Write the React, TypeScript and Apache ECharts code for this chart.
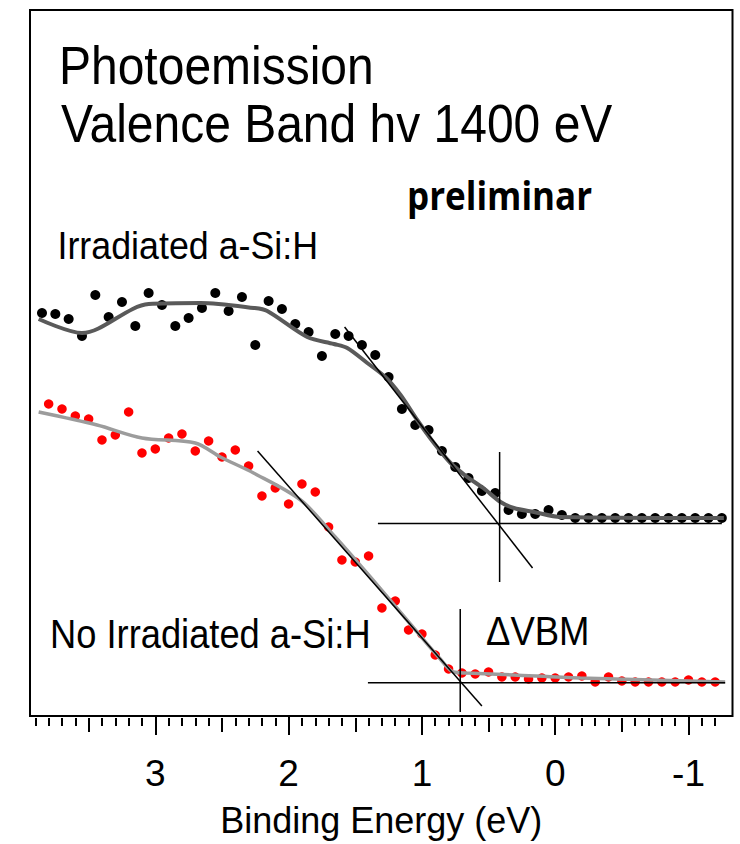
import React, { useEffect, useRef } from "react";
import * as echarts from "echarts";

// ---- Data (binding energy in eV, intensity in arbitrary units) ----
const blackE = [3.85, 3.75, 3.65, 3.55, 3.45, 3.35, 3.25, 3.15, 3.05, 2.95, 2.85, 2.75, 2.65, 2.55, 2.45, 2.35, 2.25, 2.15, 2.05, 1.95, 1.85, 1.75, 1.65, 1.55, 1.45, 1.35, 1.25, 1.15, 1.05, 0.95, 0.85, 0.75, 0.65, 0.55, 0.45, 0.35, 0.25, 0.15, 0.05, -0.05, -0.15, -0.25, -0.35, -0.45, -0.55, -0.65, -0.75, -0.85, -0.95, -1.05, -1.15, -1.25];
const blackV = [4.03, 4.02, 3.97, 3.8, 4.21, 3.99, 4.14, 3.9, 4.23, 4.11, 3.9, 3.98, 4.08, 4.23, 4.05, 4.19, 3.71, 4.15, 4.07, 3.92, 3.84, 3.6, 3.82, 3.8, 3.71, 3.61, 3.39, 3.07, 2.91, 2.86, 2.65, 2.49, 2.38, 2.25, 2.23, 2.06, 2.02, 2.02, 2.06, 2.01, 1.98, 1.98, 1.98, 1.98, 1.98, 1.98, 1.98, 1.98, 1.98, 1.98, 1.98, 1.98];

const redE = [3.8, 3.7, 3.6, 3.5, 3.4, 3.3, 3.2, 3.1, 3.0, 2.9, 2.8, 2.7, 2.6, 2.5, 2.4, 2.3, 2.2, 2.1, 2.0, 1.9, 1.8, 1.7, 1.6, 1.5, 1.4, 1.3, 1.2, 1.1, 1.0, 0.9, 0.8, 0.7, 0.6, 0.5, 0.4, 0.3, 0.2, 0.1, 0.0, -0.1, -0.2, -0.3, -0.4, -0.5, -0.6, -0.7, -0.8, -0.9, -1.0, -1.1, -1.2];
const redV = [3.12, 3.07, 3.0, 2.97, 2.76, 2.81, 3.04, 2.63, 2.67, 2.78, 2.82, 2.65, 2.75, 2.59, 2.66, 2.5, 2.2, 2.28, 2.12, 2.32, 2.24, 1.89, 1.56, 1.54, 1.6, 1.08, 1.15, 0.86, 0.82, 0.61, 0.47, 0.43, 0.42, 0.44, 0.39, 0.39, 0.37, 0.38, 0.38, 0.39, 0.4, 0.34, 0.39, 0.35, 0.34, 0.34, 0.34, 0.34, 0.36, 0.34, 0.34];

// smoothed fits
const blackFitE = [3.875, 3.55, 3.05, 2.66, 2.26, 2.16, 1.86, 1.66, 1.56, 1.41, 1.275, 1.16, 1.035, 0.91, 0.785, 0.66, 0.54, 0.41, 0.31, 0.16, -0.04, -1.265];
const blackFitV = [3.97, 3.83, 4.12, 4.13, 4.08, 4.05, 3.79, 3.72, 3.68, 3.53, 3.39, 3.21, 2.96, 2.73, 2.53, 2.39, 2.28, 2.14, 2.08, 2.04, 1.99, 1.98];
const redFitE = [3.875, 3.437, 3.1, 2.7, 2.512, 2.263, 1.91, 1.65, 1.387, 1.087, 0.862, 0.763, 0.662, 0.313, -0.188, -1.275];
const redFitV = [3.04, 2.91, 2.78, 2.73, 2.59, 2.43, 2.16, 1.79, 1.39, 0.92, 0.57, 0.44, 0.43, 0.41, 0.38, 0.34];

// valence-band-maximum construction lines
const blackTangentE = [1.58, 0.17];
const blackTangentV = [3.89, 1.48];
const blackVbmE = [0.417, 0.417];
const blackVbmV = [2.64, 1.34];
const blackBaseE = [1.33, -1.25];
const blackBaseV = [1.925, 1.925];
const redTangentE = [2.233, 0.55];
const redTangentV = [2.65, 0.1];
const redVbmE = [0.7125, 0.7125];
const redVbmV = [1.07, 0.04];
const redBaseE = [1.405, -1.275];
const redBaseV = [0.333, 0.333];

// axis ticks
const majorTicks = [3, 2, 1, 0, -1];
const halfTicks = [3.5, 2.5, 1.5, 0.5, -0.5];
const minorTicks: number[] = [];
for (let i = 39; i >= -12; i--) minorTicks.push(i / 10);

const X_MIN = -1.33;
const X_MAX = 3.94;

const zip = (a: number[], b: number[]) => a.map((v, i) => [v, b[i]]);

const SANS = "'Liberation Sans', Arial, sans-serif";

export default function App() {
  const ref = useRef<HTMLDivElement>(null);
  useEffect(() => {
    document.body.style.margin = "0";
    if (!ref.current) return;
    const chart = echarts.init(ref.current, null, { renderer: "svg" });

    const baseAxis = {
      type: "value" as const,
      min: X_MIN,
      max: X_MAX,
      inverse: true,
      position: "bottom" as const,
      offset: 2,
      axisLine: { show: false },
      splitLine: { show: false },
    };

    const thinLine = (e: number[], v: number[]) => ({
      type: "line",
      data: zip(e, v),
      showSymbol: false,
      symbol: "none",
      lineStyle: { color: "#000", width: 1.5 },
      z: 5,
      silent: true,
    });

    const t = (text: string, x: number, y: number, size: number, extra: any = {}) => ({
      type: "text",
      x,
      y,
      scaleY: 1.1,
      style: {
        text,
        fontSize: size,
        fontFamily: SANS,
        fill: "#000",
        textAlign: "left",
        textVerticalAlign: "middle",
        ...extra,
      },
      z: 10,
    });

    chart.setOption({
      animation: false,
      backgroundColor: "#fff",
      grid: {
        left: 30,
        right: 7.5,
        top: 10,
        bottom: 128,
        show: true,
        borderColor: "#000",
        borderWidth: 2,
        backgroundColor: "transparent",
      },
      xAxis: [
        {
          ...baseAxis,
          name: "Binding Energy (eV)",
          nameLocation: "middle",
          nameGap: 84,
          nameTextStyle: { fontSize: 36, fontFamily: SANS, color: "#000" },
          axisTick: { show: true, customValues: majorTicks, length: 19, lineStyle: { color: "#000", width: 2 } },
          axisLabel: { show: true, customValues: majorTicks, fontSize: 37, fontFamily: SANS, color: "#000", margin: 37 },
        },
        {
          ...baseAxis,
          axisTick: { show: true, customValues: halfTicks, length: 14, lineStyle: { color: "#000", width: 2 } },
          axisLabel: { show: false },
        },
        {
          ...baseAxis,
          axisTick: { show: true, customValues: minorTicks, length: 8, lineStyle: { color: "#000", width: 2 } },
          axisLabel: { show: false },
        },
      ],
      yAxis: { type: "value", min: 0, max: 7.06, show: false },
      graphic: [
        t("Photoemission", 59, 66, 48),
        t("Valence Band hv 1400 eV", 61, 124, 48),
        t("preliminar", 407, 195, 35, { fontFamily: "'Open Sans', sans-serif", fontWeight: "bold" }),
        t("Irradiated a-Si:H", 57.5, 245.5, 35.8),
        t("No Irradiated a-Si:H", 50, 633.5, 36.3),
        t("ΔVBM", 486, 631, 36.5),
      ],
      series: [
        {
          name: "Irradiated a-Si:H",
          type: "scatter",
          data: zip(blackE, blackV),
          symbolSize: 10,
          itemStyle: { color: "#000", opacity: 1 },
          z: 2,
        },
        {
          name: "No Irradiated a-Si:H",
          type: "scatter",
          data: zip(redE, redV),
          symbolSize: 9.5,
          itemStyle: { color: "#ff0000", opacity: 1 },
          z: 2,
        },
        {
          type: "line",
          data: zip(blackFitE, blackFitV),
          smooth: 0.3,
          showSymbol: false,
          symbol: "none",
          lineStyle: { color: "#5a5a5a", width: 4 },
          z: 3,
        },
        {
          type: "line",
          data: zip(redFitE, redFitV),
          smooth: 0.3,
          showSymbol: false,
          symbol: "none",
          lineStyle: { color: "#9c9c9c", width: 3.5 },
          z: 3,
        },
        thinLine(blackTangentE, blackTangentV),
        thinLine(blackVbmE, blackVbmV),
        thinLine(blackBaseE, blackBaseV),
        thinLine(redTangentE, redTangentV),
        thinLine(redVbmE, redVbmV),
        thinLine(redBaseE, redBaseV),
      ],
    });
    return () => chart.dispose();
  }, []);
  return <div ref={ref} style={{ width: 740, height: 844 }} />;
}
